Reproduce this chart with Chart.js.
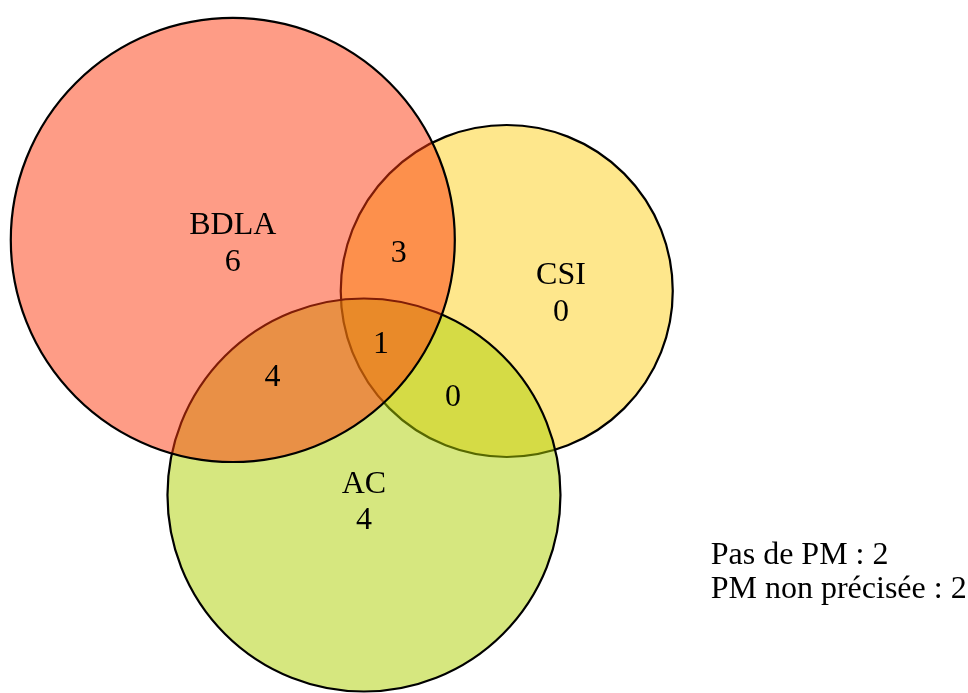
<!DOCTYPE html>
<html>
<head>
  <script src="https://cdn.jsdelivr.net/npm/chart.js@4.4.1/dist/chart.umd.min.js"></script>
  <style>
    html, body {
      margin: 0;
      padding: 0;
      background: white;
    }
    .chart-container {
      position: relative;
      width: 968px;
      height: 693px;
    }
  </style>
</head>
<body>
  <div class="chart-container">
    <canvas id="vennChart"></canvas>
  </div>

  <script>
    // Venn counts
    const sets = ['BDLA', 'CSI', 'AC'];
    const onlyCounts = [6, 0, 4];
    const pairs = ['BDLA & CSI', 'BDLA & AC', 'CSI & AC'];
    const pairCounts = [3, 4, 0];
    const allThreeCount = 1;
    const notes = ['Pas de PM', 'PM non précisée'];
    const noteCounts = [2, 2];

    // Layout of the diagram, in plot units (x 0..20, y 0..14.32)
    const circleX = [4.81, 10.47, 7.52];
    const circleY = [9.36, 8.306, 4.091];
    const circleR = [4.587, 3.43, 4.06];
    const setLabelX = [4.81, 11.59, 7.52];
    const setLabelY = [9.477, 8.45, 4.138];
    const pairLabelX = [8.238, 5.63, 9.36];
    const pairLabelY = [8.899, 6.343, 5.93];
    const allLabelPos = {x: 7.872, y: 7.019};
    const notePos = {x: 14.684, y: 2.665};

    const fills = ['rgba(253, 57, 13, 0.5)', 'rgba(253, 207, 25, 0.5)', 'rgba(173, 207, 0, 0.5)'];
    const drawOrder = [0, 2, 1]; // first entry is drawn on top

    const font = "32px 'Liberation Serif', 'Times New Roman', serif";
    const lineGap = 36.5;

    const labelPlugin = {
      id: 'vennLabels',
      afterDatasetsDraw(chart) {
        const ctx = chart.ctx;
        const xs = chart.scales.x;
        const ys = chart.scales.y;
        ctx.save();
        ctx.font = font;
        ctx.fillStyle = '#000';
        ctx.textAlign = 'center';
        ctx.textBaseline = 'alphabetic';

        sets.forEach((name, i) => {
          const px = xs.getPixelForValue(setLabelX[i]);
          const py = ys.getPixelForValue(setLabelY[i]);
          ctx.fillText(name, px, py);
          ctx.fillText(String(onlyCounts[i]), px, py + lineGap);
        });
        pairs.forEach((name, i) => {
          ctx.fillText(String(pairCounts[i]), xs.getPixelForValue(pairLabelX[i]), ys.getPixelForValue(pairLabelY[i]));
        });
        ctx.fillText(String(allThreeCount), xs.getPixelForValue(allLabelPos.x), ys.getPixelForValue(allLabelPos.y));

        ctx.textAlign = 'left';
        const nx = xs.getPixelForValue(notePos.x);
        const ny = ys.getPixelForValue(notePos.y);
        notes.forEach((n, i) => {
          ctx.fillText(n + ' : ' + noteCounts[i], nx, ny + i * 34.3);
        });
        ctx.restore();
      }
    };

    const ctx = document.getElementById('vennChart').getContext('2d');
    const vennChart = new Chart(ctx, {
      type: 'scatter',
      data: {
        datasets: drawOrder.map(i => ({
          label: sets[i],
          data: [{x: circleX[i], y: circleY[i]}],
          showLine: false,
          pointBackgroundColor: fills[i],
          pointBorderColor: '#000',
          pointBorderWidth: 2.2,
          pointHoverBorderWidth: 2.2,
          pointRadius: 0,
          pointHoverRadius: 0,
          clip: false
        }))
      },
      options: {
        responsive: true,
        maintainAspectRatio: false,
        animation: false,
        events: [],
        layout: { padding: 0, autoPadding: false },
        scales: {
          x: { type: 'linear', min: 0, max: 20, display: false },
          y: { type: 'linear', min: 0, max: 693 / 48.4, display: false }
        },
        plugins: {
          legend: { display: false },
          tooltip: { enabled: false }
        }
      },
      plugins: [labelPlugin]
    });

    // circle radii are in plot units, convert them with the x scale
    const xs = vennChart.scales.x;
    vennChart.data.datasets.forEach((ds, k) => {
      const i = drawOrder[k];
      ds.pointRadius = xs.getPixelForValue(circleR[i]) - xs.getPixelForValue(0);
    });
    vennChart.update();
  </script>
</body>
</html>
